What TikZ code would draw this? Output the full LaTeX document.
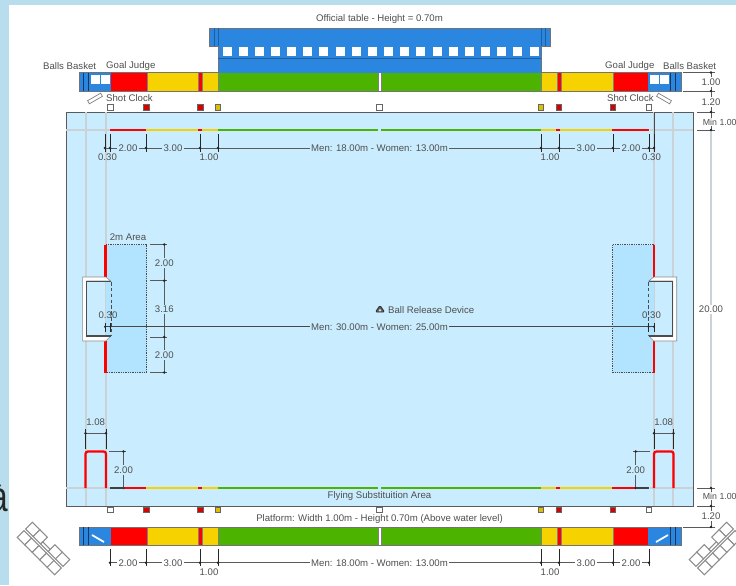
\documentclass[tikz,border=0pt]{standalone}
\usepackage{fontspec}
\setmainfont{Liberation Sans}
\definecolor{frameblue}{HTML}{B8DDEC}
\definecolor{poolblue}{HTML}{C9ECFF}
\definecolor{areablue}{HTML}{B2E3FF}
\definecolor{benchblue}{HTML}{2A86DE}
\definecolor{benchline}{HTML}{1F5E9E}
\definecolor{zonered}{HTML}{FF0000}
\definecolor{zoneyellow}{HTML}{F6D300}
\definecolor{zonegreen}{HTML}{4CB400}
\definecolor{laneline}{HTML}{CBD2D6}
\definecolor{inktext}{HTML}{4F4F4F}
\definecolor{inkline}{HTML}{5A5A5A}
\tikzset{
  label/.style={font=\fontsize{8.2}{9}\selectfont, text=inktext, inner sep=0pt},
  dimlabel/.style={font=\fontsize{8.2}{9}\selectfont, text=inktext, inner sep=1pt},
  dimline/.style={inkline, line width=.5pt},
  dimtick/.style={black!85, line width=.5pt},
  lane/.style={laneline, line width=2.2pt},
  basket/.style={draw=black!45, fill=white, line width=.9pt}
}
\begin{document}
\begin{tikzpicture} [x=.03cm, y=-.03cm]

\useasboundingbox (0,0) rectangle (736,585);
\clip (0,0) rectangle (736,585);
\fill[frameblue] (0,0) rectangle (736,585);
\fill[white] (9,5) rectangle (736,585);
\node[font=\fontsize{36}{38}\selectfont, text=black!85, inner sep=0pt, anchor=base east, xscale=.75, transform shape] (cutletter) at (8.7,511.5) {à};

% pool
\draw[inkline, fill=poolblue, line width=.7pt] (66,112) rectangle (693,506);
\foreach \x in {86,106,654,673} {
 \draw[lane] (\x,112)--(\x,506);
};
\foreach \y in {130,488} {
 \draw[lane] (66,\y)--(110,\y);
 \draw[lane] (650,\y)--(693,\y);
};
\draw[laneline, line width=1.8pt] (711,130)--(711,488);

% 2m areas
\foreach \xa/\xb in {106/146.5,612.5/654} {
 \fill[areablue] (\xa,244.5) rectangle (\xb,372.5);
};
\draw[densely dotted, black!70, line width=.5pt] (106,244.5)--(146.5,244.5)--(146.5,372.5)--(106,372.5);
\draw[densely dotted, black!70, line width=.5pt] (654,244.5)--(612.5,244.5)--(612.5,372.5)--(654,372.5);
\draw[densely dashed, black!70, line width=.4pt] (111,282)--(111,336);
\draw[densely dashed, black!70, line width=.4pt] (648.5,282)--(648.5,336);

% goal lines, goals
\foreach \ya/\yb in {244.5/277,341/372.5} {
 \draw[zonered, line width=2.4pt] (105.5,\ya)--(105.5,\yb);
 \draw[zonered, line width=2.4pt] (654,\ya)--(654,\yb);
};
\foreach \xs in {1,-1} {
 \begin{scope}[shift={(379.7,0)}, xscale=\xs]
 \draw[fill=white, draw=black!45, line width=.5pt] (-269,281)--(-274,277)--(-297,277)--(-297,341)--(-274,341)--(-269,336)--(-293,336)--(-293,281)--cycle;
 \draw[black!70, line width=1pt] (-269,281.3)--(-293,281.3)--(-293,336)--(-269,336);
 \end{scope}
};

% substitution corners
\foreach \xa/\xb in {85.5/106,654/673.5} {
 \draw[zonered, line width=1.9pt, rounded corners=2pt] (\xa,488)--(\xa,451.5)--(\xb,451.5)--(\xb,488);
};

% zones on the pool and on the two platforms
\foreach \y in {130,488} {
 \foreach \xa/\xb/\zone in {110/146/zonered,146/198/zoneyellow,198/202/zonered,202/218/zoneyellow,218/378/zonegreen,381/541/zonegreen,541/556/zoneyellow,556/560/zonered,560/612/zoneyellow,612/649/zonered} {
  \draw[\zone, line width=2.1pt] (\xa,\y)--(\xb,\y);
 };
};
\foreach \ya/\yb in {72.5/91,527/545} {
 \fill[benchblue] (79,\ya) rectangle (111,\yb);
 \fill[benchblue] (648,\ya) rectangle (681,\yb);
 \foreach \xa/\xb/\zone in {111/147/zonered,147/198/zoneyellow,198/202/zonered,202/218/zoneyellow,218/378/zonegreen,381/541/zonegreen,541/557/zoneyellow,557/561/zonered,561/613/zoneyellow,613/648/zonered} {
  \fill[\zone] (\xa,\ya) rectangle (\xb,\yb);
 };
 \foreach \x in {147,198,202,218,378,381,541,557,561,613} {
  \draw[black!50, line width=.4pt] (\x,\ya)--(\x,\yb);
 };
 \draw[black!55, line width=.6pt] (79,\ya) rectangle (681,\yb);
 \foreach \x in {83,88,670,675} {
  \draw[benchline!60!black, line width=.8pt] (\x,\ya)--(\x,\yb);
 };
};

% official table
\fill[benchblue] (209,28) rectangle (218,46);
\fill[benchblue] (541,28) rectangle (550,46);
\fill[benchblue] (218,28) rectangle (541,72.5);
\draw[black!55, line width=.6pt] (218,72.5)--(218,46)--(209,46)--(209,28)--(550,28)--(550,46)--(541,46)--(541,72.5);
\draw[benchline, line width=.6pt] (218,58.7)--(541,58.7);
\foreach \x in {214,218,541,545} {
 \draw[benchline, line width=.6pt] (\x,28)--(\x,46);
};
\foreach \i in {0,...,19} {
 \fill[white] ({222.5+16.16*\i},47) rectangle +(9,9);
};
\foreach \x in {91,101,649.5,659.5} {
 \fill[white] (\x,75) rectangle +(9,8.5);
};

% judges and clocks
\foreach \y in {107.5,510} {
 \foreach \x/\mark in {110.5/white,146.5/zonered!85!black,200.5/zonered!85!black,218/zoneyellow!90!black,379.5/white,541/zoneyellow!90!black,559/zonered!85!black,613/zonered!85!black,649/white} {
  \draw[fill=\mark, draw=black!60, line width=1pt] (\x-2.6,\y-2.6) rectangle (\x+2.6,\y+2.6);
 };
};

% shot clocks
\foreach \xs/\xc in {1/95,-1/664} {
 \begin{scope}[shift={(\xc,98.5)}, xscale=\xs, rotate=30]
 \draw[fill=white, draw=black!50, line width=.6pt] (-7.5,-1.8) rectangle (7.5,1.8);
 \end{scope}
};
\draw[white, line width=1.5pt] (92,535)--(104,542);
\draw[white, line width=1.5pt] (656,542)--(668,535);

% basket racks
\foreach \xc/\xs in {43.5/1,715.5/-1} {
 \begin{scope}[shift={(\xc,548.5)}, xscale=\xs, rotate=-45]
 \foreach \i in {0,...,4} {
  \draw[basket] ({-26.5+10.6*\i},1.2) rectangle +(10.6,9.5);
 };
 \foreach \i in {-26.5,-15.9,5.3,15.9} {
  \draw[basket] (\i,-10.7) rectangle +(10.6,9.5);
 };
 \draw[basket] (-5.3,-4.2) rectangle (5.3,-1.2);
 \end{scope}
};

% widths along the top platform
\draw[dimline] (105,148)--(654,148);
\foreach \x in {105,110,146,200,218,541,559,613,649,654} {
 \draw[dimtick] (\x,134)--(\x,152);
 \fill[black!85] (\x,148) circle (1.2pt);
};
\draw[black!70, line width=.6pt] (654,112)--(654,134);
% widths under the bottom platform
\draw[dimline] (110,562.7)--(649,562.7);
\foreach \x in {110,146,200,218,541,559,613,649} {
 \draw[dimtick] (\x,549)--(\x,566);
 \fill[black!85] (\x,562.7) circle (1.2pt);
};
\foreach \y/\n/\bg in {148/top/poolblue,562.7/low/white} {
 \node[dimlabel, fill=\bg] (two\n a) at (128,\y) {2.00};
 \node[dimlabel, fill=\bg] (three\n a) at (173,\y) {3.00};
 \node[dimlabel, fill=\bg] (three\n b) at (586,\y) {3.00};
 \node[dimlabel, fill=\bg] (two\n b) at (631,\y) {2.00};
 \node[dimlabel, fill=\bg] (men\n) at (379.5,\y) {Men: 18.00m - Women: 13.00m};
 \node[dimlabel] (one\n a) at (209,\y+9.3) {1.00};
 \node[dimlabel] (one\n b) at (550,\y+9.3) {1.00};
};
\node[dimlabel] (gapta) at (107.5,157) {0.30};
\node[dimlabel] (gaptb) at (651.5,157) {0.30};

% right hand column
\draw[dimline] (711,72)--(711,130);
\draw[dimline] (711,488)--(711,527);
\foreach \xa/\y in {683/72.5,683/91,697/112,697/130,697/488,697/506,683/527} {
 \draw[dimline] (\xa,\y)--(715,\y);
 \fill[black!85] (711,\y) circle (1.2pt);
};
\node[dimlabel, fill=white] (sizeplat) at (711,82) {1.00};
\node[dimlabel, fill=white] (sizegapa) at (711,102) {1.20};
\node[dimlabel, fill=white, anchor=west, font=\fontsize{7.5}{9}\selectfont] (sizemina) at (701.5,122) {Min 1.00};
\node[dimlabel, fill=white] (sizepool) at (711,309.5) {20.00};
\node[dimlabel, fill=white, anchor=west, font=\fontsize{7.5}{9}\selectfont] (sizeminb) at (701.5,496) {Min 1.00};
\node[dimlabel, fill=white] (sizegapb) at (711,516) {1.20};

% 2m zone and length
\draw[dimline] (164.3,244.5)--(164.3,372.5);
\foreach \y in {244.5,280.7,337,372.5} {
 \draw[dimline] (150,\y)--(167,\y);
 \fill[black!85] (164.3,\y) circle (1.2pt);
};
\node[dimlabel, fill=poolblue] (areaa) at (164.3,263) {2.00};
\node[dimlabel, fill=poolblue] (areab) at (164.3,309.5) {3.16};
\node[dimlabel, fill=poolblue] (areac) at (164.3,355) {2.00};
\node[label] (areaname) at (128,237) {2m Area};
\draw[inkline!80!black, line width=.5pt] (105,326.7)--(654,326.7);
\foreach \x in {105,110.5,648.5,654} {
 \draw[dimtick] (\x,323)--(\x,332);
 \fill[black!85] (\x,326.7) circle (1pt);
};
\node[dimlabel, fill=poolblue] (menlong) at (379.5,326.7) {Men: 30.00m - Women: 25.00m};
\node[dimlabel] (gapma) at (108,315) {0.30};
\node[dimlabel] (gapmb) at (651.5,315) {0.30};

% corner widths
\foreach \xa/\xb/\xt/\n in {85.5/106/95.7/a,654/673.5/663.7/b} {
 \draw[dimline] (\xa,433.3)--(\xb,433.3);
 \foreach \x in {\xa,\xb} {
  \draw[dimtick] (\x,429)--(\x,449);
  \fill[black!85] (\x,433.3) circle (1.2pt);
 };
 \node[dimlabel] (corner\n) at (\xt,422) {1.08};
};
\foreach \xa/\xb/\xd/\n in {109/126/123.5/a,633/650/635.7/b} {
 \draw[dimline] (\xa,451.5)--(\xb,451.5);
 \draw[dimline] (\xd,451.5)--(\xd,488);
 \fill[black!85] (\xd,451.5) circle (1.2pt);
 \fill[black!85] (\xd,488) circle (1.2pt);
 \node[dimlabel, fill=poolblue] (flag\n) at (\xd,470) {2.00};
};
\draw[black!75, line width=1pt] (110,488)--(123.5,488);
\draw[black!75, line width=1pt] (635.7,488)--(649,488);

% names
\node[label] (tablename) at (379.5,19) {Official table - Height = 0.70m};
\node[label, anchor=west] (basketa) at (43,66) {Balls Basket};
\node[label, anchor=west] (judgea) at (106,66) {Goal Judge};
\node[label, anchor=west] (judgeb) at (605,66) {Goal Judge};
\node[label, anchor=west] (basketb) at (663,66) {Balls Basket};
\node[label, anchor=west] (clocka) at (106,98) {Shot Clock};
\node[label, anchor=west] (clockb) at (607,98) {Shot Clock};
\node[label] (flyname) at (379.5,496) {Flying Substituition Area};
\node[label] (platname) at (379.5,519) {Platform: Width 1.00m - Height 0.70m (Above water level)};
\node[label, anchor=west] (ballname) at (388,310) {Ball Release Device};
\draw[black!80, fill=black!60, line width=.8pt, line join=round, rounded corners=1pt] (375.5,312)--(380,305.5)--(384.5,312)--cycle;
\fill[poolblue] (380,310.3) circle (1.1pt);

\end{tikzpicture}
\end{document}
